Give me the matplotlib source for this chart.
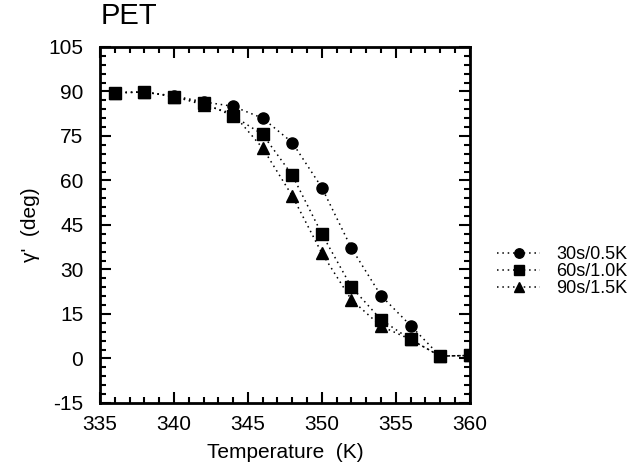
import matplotlib
matplotlib.use("Agg")
import matplotlib.pyplot as plt
from matplotlib.ticker import MultipleLocator

plt.rcParams['font.family'] = ['Liberation Sans', 'DejaVu Sans']
plt.rcParams['axes.unicode_minus'] = False

temps = [336, 338, 340, 342, 344, 346, 348, 350, 352, 354, 356, 358, 360]
s30 = [89.6, 89.8, 88.5, 86.5, 85.0, 81.0, 72.8, 57.6, 37.2, 21.2, 11.1, 0.8, 1.0]
s60 = [89.6, 89.8, 88.3, 86.0, 81.8, 75.5, 61.8, 42.0, 24.1, 13.1, 6.4, 0.8, 1.0]
s90 = [89.6, 89.8, 88.3, 85.5, 82.5, 70.9, 54.8, 35.5, 19.8, 10.9, 6.4, 0.8, 1.0]
labels = ['30s/0.5K', '60s/1.0K', '90s/1.5K']
markers = ['o', 's', '^']

fig = plt.figure(figsize=(6.43, 4.68), dpi=100)
ax = fig.add_axes([0.1555, 0.139, 0.575, 0.7606])

for ys, lab, m in zip([s30, s60, s90], labels, markers):
    ax.plot(temps, ys, linestyle=(0, (1, 2.5)), color='black', linewidth=1.1,
            marker=m, markersize=8, markerfacecolor='black', markeredgecolor='black',
            label=lab)

ax.set_xlim(335, 360)
ax.set_ylim(-15, 105)
ax.xaxis.set_major_locator(MultipleLocator(5))
ax.xaxis.set_minor_locator(MultipleLocator(1))
ax.yaxis.set_major_locator(MultipleLocator(15))
ax.yaxis.set_minor_locator(MultipleLocator(3))
ax.tick_params(which='both', direction='in', top=True, right=True, width=1.5)
ax.tick_params(which='major', length=8, labelsize=15)
ax.tick_params(axis='y', which='major', pad=12)
ax.tick_params(axis='x', which='major', pad=9)
ax.tick_params(which='minor', length=4)
for sp in ax.spines.values():
    sp.set_linewidth(2)

ax.set_xlabel('Temperature  (K)', fontsize=15, labelpad=6)
ax.set_ylabel("γ'  (deg)", fontsize=15, labelpad=6)
fig.text(0.156, 0.935, 'PET', fontsize=21, ha='left', va='bottom')

fig.legend(loc='center left', bbox_to_anchor=(497 / 643, 0.419), frameon=False,
           prop={'size': 13}, handlelength=2.4, markerscale=0.85,
           handletextpad=0.9, labelspacing=0.0, borderaxespad=0, borderpad=0)

fig.savefig('out.png', dpi=100)
